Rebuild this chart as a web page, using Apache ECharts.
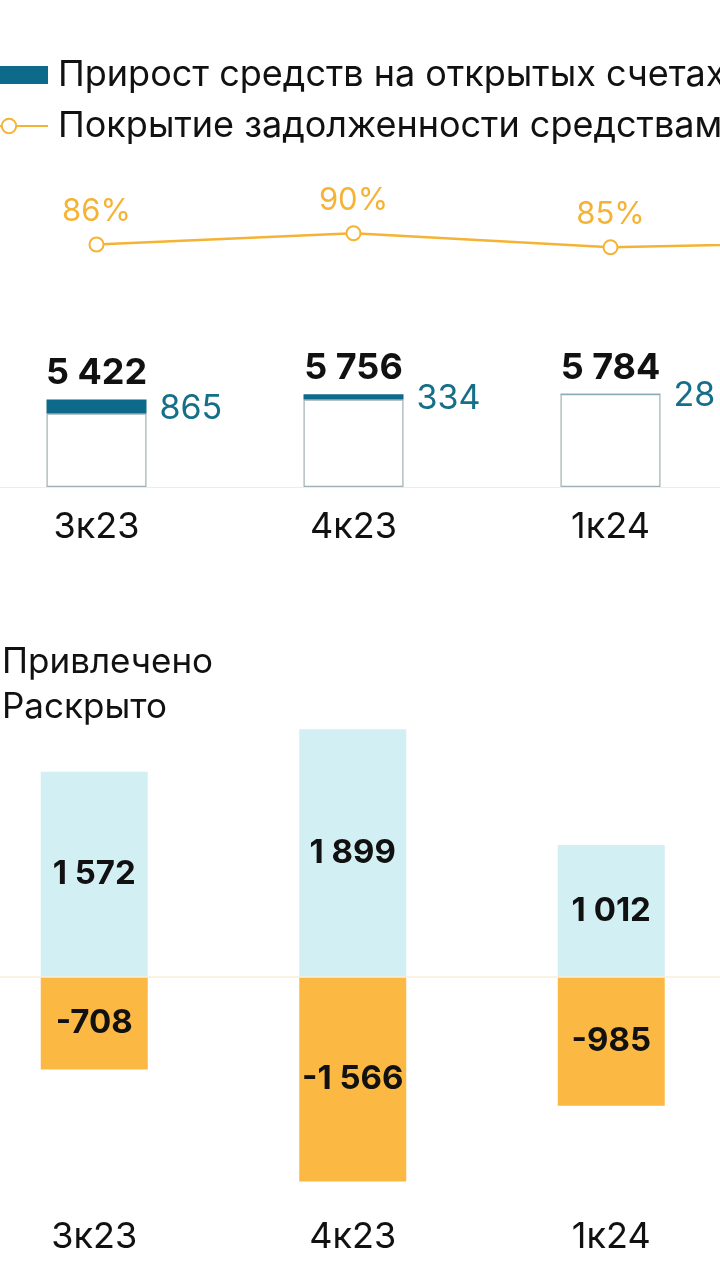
<!DOCTYPE html>
<html>
<head>
<meta charset="utf-8">
<script src="https://cdn.jsdelivr.net/npm/echarts@6/dist/echarts.min.js"></script>
<style>
  html, body { margin: 0; padding: 0; background: #ffffff; }
  #chart { width: 720px; height: 1280px; }
</style>
</head>
<body>
<div id="chart"></div>
<script>
// ---- data ----
var categories = ['3к23', '4к23', '1к24', '2к24'];
var totals = [5422, 5756, 5784, null];
var growth = [865, 334, 28, null];
var coverage = [86, 90, 85, 87];
var raised = [1572, 1899, 1012, null];
var disclosed = [-708, -1566, -985, null];

var nameGrowth = 'Прирост средств на открытых счетах';
var nameCoverage = 'Покрытие задолженности средствами';
var nameRaised = 'Привлечено';
var nameDisclosed = 'Раскрыто';

var base = totals.map(function (t, i) { return t == null ? null : t - growth[i]; });

function fmt(v, sep) {
  if (v == null) return '';
  var s = String(Math.abs(v));
  var out = s.replace(/\B(?=(\d{3})+(?!\d))/g, sep);
  return (v < 0 ? '-' : '') + out;
}

var FONT = 'Inter';
var TEAL = '#0d6a8b';
var ORANGE = '#f5b335';

var chart = echarts.init(document.getElementById('chart'), null, { renderer: 'canvas' });
chart.setOption({
  backgroundColor: '#ffffff',
  animation: false,
  textStyle: { fontFamily: FONT },
  legend: [
    {
      orient: 'vertical', left: -31, top: 55, padding: 0,
      itemWidth: 78, itemHeight: 18, itemGap: 11,
      textStyle: { fontSize: 36, color: '#111', fontFamily: FONT, lineHeight: 40, padding: [0, 0, 0, 5] },
      data: [{ name: nameGrowth, icon: 'rect' }, { name: nameCoverage }]
    },
    {
      orient: 'vertical', left: -28, top: 644, padding: 0,
      itemWidth: 25, itemHeight: 14, itemGap: 9,
      textStyle: { fontSize: 35, color: '#111', fontFamily: FONT, lineHeight: 36 },
      data: [{ name: nameRaised, icon: 'rect' }, { name: nameDisclosed, icon: 'rect' }]
    }
  ],
  grid: [
    { left: -32, right: -276, top: 187, bottom: 793, outerBoundsMode: 'none', containLabel: false },
    { left: -35, right: -279, top: 716, bottom: 81, outerBoundsMode: 'none', containLabel: false }
  ],
  xAxis: [
    {
      type: 'category', gridIndex: 0, data: categories,
      axisLine: { show: true, lineStyle: { color: '#f3ebdf', width: 1 } },
      axisTick: { show: false },
      axisLabel: { margin: 22, fontSize: 36, color: '#111', fontFamily: FONT, lineHeight: 36 }
    },
    {
      type: 'category', gridIndex: 1, data: categories,
      axisLine: { show: false, onZero: false },
      axisTick: { show: false },
      axisLabel: { margin: 20, fontSize: 36, color: '#111', fontFamily: FONT, lineHeight: 36 }
    }
  ],
  yAxis: [
    { type: 'value', gridIndex: 0, min: 0, max: 18600, show: false, splitLine: { show: false } },
    { type: 'value', gridIndex: 0, min: 0, max: 106.4, show: false, splitLine: { show: false } },
    { type: 'value', gridIndex: 1, min: -1700, max: 2000, show: false, splitLine: { show: false } }
  ],
  series: [
    {
      name: 'base', type: 'bar', xAxisIndex: 0, yAxisIndex: 0, stack: 'top',
      barWidth: 100, data: base,
      itemStyle: { color: '#ffffff', borderColor: '#9fb0b2', borderWidth: 1.2 },
      silent: true
    },
    {
      name: nameGrowth, type: 'bar', xAxisIndex: 0, yAxisIndex: 0, stack: 'top',
      barWidth: 100, data: growth,
      itemStyle: { color: TEAL },
      label: {
        show: true, position: 'right', distance: 13, offset: [0, 2],
        fontSize: 34, color: '#166f88', fontFamily: FONT,
        formatter: function (p) { return p.value == null ? '' : String(p.value); }
      }
    },
    {
      name: 'totals', type: 'bar', xAxisIndex: 0, yAxisIndex: 0,
      barWidth: 100, barGap: '-100%', data: totals,
      itemStyle: { color: 'rgba(0,0,0,0)' },
      z: 1, silent: true,
      label: {
        show: true, position: 'top', distance: 8,
        fontSize: 36, fontWeight: 'bold', color: '#111', fontFamily: FONT,
        formatter: function (p) { return fmt(p.value, ' '); }
      }
    },
    {
      name: nameCoverage, type: 'line', xAxisIndex: 0, yAxisIndex: 1,
      data: coverage, symbol: 'circle', symbolSize: 14,
      lineStyle: { color: ORANGE, width: 2.5 },
      itemStyle: { color: '#ffffff', borderColor: ORANGE, borderWidth: 2 },
      label: {
        show: true, position: 'top', distance: 9,
        fontSize: 31, color: ORANGE, fontFamily: FONT,
        formatter: '{c}%'
      }
    },
    {
      name: nameRaised, type: 'bar', xAxisIndex: 1, yAxisIndex: 2,
      barWidth: 107, data: raised,
      itemStyle: { color: '#d2f0f3' },
      label: {
        show: true, position: 'inside',
        fontSize: 33, fontWeight: 'bold', color: '#111', fontFamily: FONT,
        formatter: function (p) { return fmt(p.value, ' '); }
      },
      markLine: {
        silent: true, symbol: ['none', 'none'],
        label: { show: false },
        lineStyle: { color: '#f7efdc', type: 'solid', width: 1.5 },
        data: [{ yAxis: 0 }]
      }
    },
    {
      name: nameDisclosed, type: 'bar', xAxisIndex: 1, yAxisIndex: 2,
      barWidth: 107, barGap: '-100%', data: disclosed,
      itemStyle: { color: '#fbb843' },
      label: {
        show: true, position: 'inside',
        fontSize: 33, fontWeight: 'bold', color: '#111', fontFamily: FONT,
        formatter: function (p) { return fmt(p.value, ' '); }
      }
    }
  ]
});
</script>
</body>
</html>
